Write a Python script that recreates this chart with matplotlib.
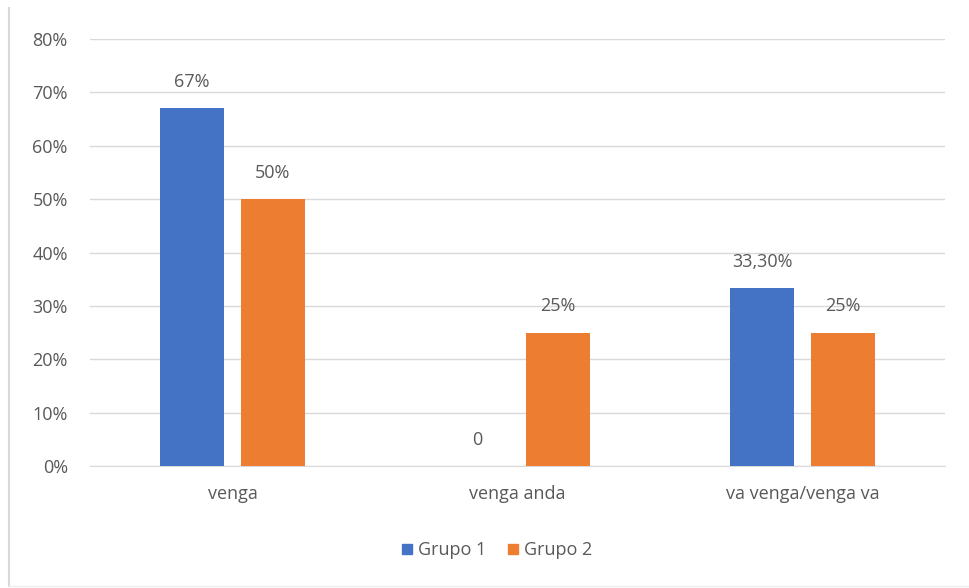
import numpy as np
import matplotlib.pyplot as plt
from matplotlib.lines import Line2D

categories = ["venga", "venga anda", "va venga/venga va"]
grupo1 = [0.67, 0.0, 0.333]
grupo2 = [0.50, 0.25, 0.25]
labels1 = ["67%", "0", "33,30%"]
labels2 = ["50%", "25%", "25%"]
series_names = ["Grupo 1", "Grupo 2"]
yticks = [0, 0.1, 0.2, 0.3, 0.4, 0.5, 0.6, 0.7, 0.8]

blue = "#4472C4"
orange = "#ED7D31"
text_gray = "#595959"

plt.rcParams['font.family'] = ['Open Sans', 'DejaVu Sans']
fs = 13

fig = plt.figure(figsize=(9.7, 5.88), dpi=100)
ax = fig.add_axes([90 / 970, 122 / 588, 855 / 970, 427 / 588])

x = np.arange(len(categories))
w = 0.225
off = 0.142
b1 = ax.bar(x - off, grupo1, w, color=blue, label=series_names[0], zorder=3)
b2 = ax.bar(x + off, grupo2, w, color=orange, label=series_names[1], zorder=3)

for bars, labs in ((b1, labels1), (b2, labels2)):
    for rect, lab in zip(bars, labs):
        ax.annotate(lab, (rect.get_x() + rect.get_width() / 2, rect.get_height()),
                    xytext=(0, 19), textcoords="offset points", ha="center", va="center",
                    fontsize=fs, color=text_gray)

ax.set_xlim(-0.5, 2.5)
ax.set_ylim(0, 0.8)
ax.set_yticks(yticks)
ax.set_yticklabels([f"{int(round(t * 100))}%" for t in yticks])
ax.set_xticks(x)
ax.set_xticklabels(categories)
ax.tick_params(axis="both", length=0, labelsize=fs, colors=text_gray)
ax.tick_params(axis="y", pad=16)
ax.tick_params(axis="x", pad=14)
ax.grid(axis="y", color="#D9D9D9", linewidth=1, zorder=0)
for s in ["top", "right", "left"]:
    ax.spines[s].set_visible(False)
ax.spines["bottom"].set_color("#D9D9D9")

handles = [Line2D([], [], marker="s", linestyle="none", markersize=7, color=blue),
           Line2D([], [], marker="s", linestyle="none", markersize=7, color=orange)]
leg = fig.legend(handles, series_names, loc="center", bbox_to_anchor=(495 / 970, 1 - 550 / 588),
                 ncol=2, frameon=False, fontsize=fs, handletextpad=0.1, columnspacing=1.0,
                 handlelength=1.0)
for t in leg.get_texts():
    t.set_color(text_gray)

# outer chart frame, faint
fig.add_artist(Line2D([9 / 970, 9 / 970], [2 / 588, 580 / 588], color="#D9D9D9", linewidth=1.5))
fig.add_artist(Line2D([9 / 970, 1.0], [2 / 588, 2 / 588], color="#EEEEEE", linewidth=1))

fig.savefig("out.png", dpi=100)
